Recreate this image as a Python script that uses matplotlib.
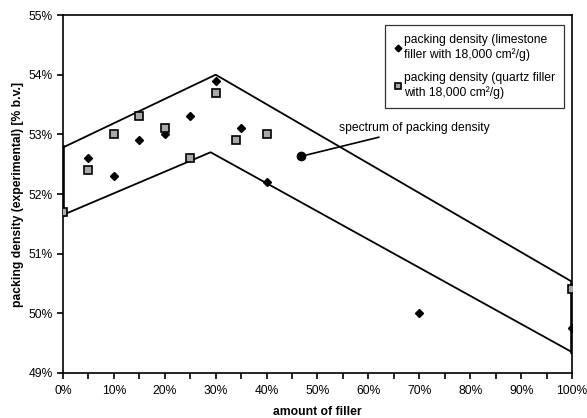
import numpy as np
import matplotlib.pyplot as plt
from matplotlib.ticker import MultipleLocator, FuncFormatter

plt.rcParams['font.family'] = ['Liberation Sans', 'DejaVu Sans']

# limestone filler (diamonds)
lime_x = [0, 5, 10, 15, 20, 25, 30, 35, 40, 70, 100]
lime_y = [51.7, 52.6, 52.3, 52.9, 53.0, 53.3, 53.9, 53.1, 52.2, 50.0, 49.76]
# quartz filler (squares)
quartz_x = [0, 5, 10, 15, 20, 25, 30, 34, 40, 100]
quartz_y = [51.7, 52.4, 53.0, 53.3, 53.1, 52.6, 53.7, 52.9, 53.0, 50.4]
# envelope of packing density
upper_x = [0, 30, 100]
upper_y = [52.78, 54.0, 50.53]
lower_x = [0, 29, 100]
lower_y = [51.65, 52.7, 49.35]

fs = 8.7

fig = plt.figure(figsize=(5.87, 4.18), dpi=100)
ax = fig.add_axes([0.1073, 0.1077, 0.8671, 0.8563])

ax.plot(upper_x, upper_y, color='black', lw=1.3)
ax.plot(lower_x, lower_y, color='black', lw=1.3)
ax.plot([0, 0], [lower_y[0], upper_y[0]], color='black', lw=2.6)
ax.plot([100, 100], [lower_y[-1], upper_y[-1]], color='black', lw=2.6)

ax.plot(lime_x, lime_y, ls='none', marker='D', ms=4, color='black',
        label='packing density (limestone\nfiller with 18,000 cm²/g)', zorder=4)
ax.plot(quartz_x, quartz_y, ls='none', marker='s', ms=5.5, mfc='#a8a8a8', mec='black', mew=1.2,
        label='packing density (quartz filler\nwith 18,000 cm²/g)', zorder=5)

ax.annotate('spectrum of packing density', xy=(46.7, 52.63), xytext=(54.3, 53.1),
            fontsize=fs, va='center', ha='left',
            arrowprops=dict(arrowstyle='-', color='black', lw=1.2, shrinkA=0, shrinkB=0))
ax.plot([46.7], [52.63], marker='o', ms=6, color='black', zorder=6)

ax.set_xlim(0, 100)
ax.set_ylim(49, 55)
ax.xaxis.set_major_locator(MultipleLocator(10))
ax.xaxis.set_minor_locator(MultipleLocator(5))
ax.yaxis.set_major_locator(MultipleLocator(1))
pct = FuncFormatter(lambda v, p: '%d%%' % round(v))
ax.xaxis.set_major_formatter(pct)
ax.yaxis.set_major_formatter(pct)
ax.tick_params(axis='both', which='both', direction='out', labelsize=fs, width=1.2, color='black')
ax.tick_params(axis='both', which='major', length=4)
ax.tick_params(axis='x', which='minor', length=4)
ax.tick_params(axis='x', which='major', pad=5)
for s in ax.spines.values():
    s.set_linewidth(1.2)

ax.set_xlabel('amount of filler', fontsize=fs, fontweight='bold', labelpad=6)
ax.set_ylabel('packing density (experimental) [% b.v.]', fontsize=fs, fontweight='bold', labelpad=3)

leg = ax.legend(loc='upper right', bbox_to_anchor=(0.985, 0.972), fontsize=fs, frameon=True,
                fancybox=False, edgecolor='black', handlelength=0.5, handletextpad=0.3,
                borderpad=0.75, labelspacing=0.95, borderaxespad=0, markerscale=0.85)
leg.get_frame().set_linewidth(0.9)

fig.savefig('out.png', dpi=100)
